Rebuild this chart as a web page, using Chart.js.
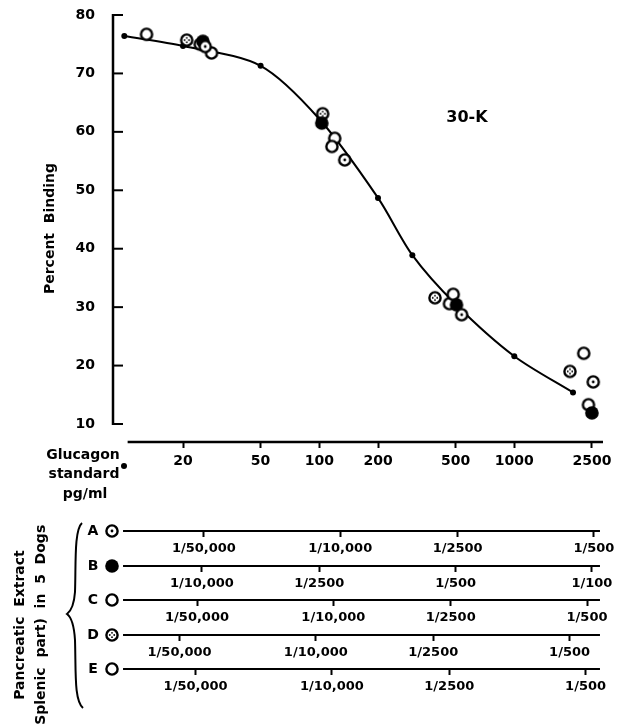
<!DOCTYPE html>
<html>
<head>
<meta charset="utf-8">
<script src="https://cdn.jsdelivr.net/npm/chart.js@4.4.0/dist/chart.umd.min.js"></script>
<style>
    html, body { margin: 0; padding: 0; background: #fff; }
</style>
</head>
<body>
<canvas id="bindingChart" width="624" height="725"></canvas>
<script>
// glucagon standard curve (pg/ml vs percent binding)
const standardDose = [10, 20, 50, 100, 200, 300, 500, 1000, 2000];
const standardBinding = [76.4, 74.7, 71.3, 62.2, 48.7, 38.9, 30.5, 21.6, 15.4];

const doseTicks = [20, 50, 100, 200, 500, 1000, 2500];
const bindingTicks = [10, 20, 30, 40, 50, 60, 70, 80];

// pancreatic extracts, dogs A-E (x read as pg/ml on the standard axis)
const doseA = [26, 135, 537, 2540];
const bindA = [74.6, 55.2, 28.7, 17.2];
const doseB = [25.3, 103, 505, 2500];
const bindB = [75.5, 61.5, 30.4, 11.9];
const doseC = [24.5, 116, 486, 2270];
const bindC = [75.0, 57.5, 32.2, 22.1];
const doseD = [20.9, 104, 392, 1930];
const bindD = [75.7, 63.1, 31.6, 19.0];
const doseE = [13, 28, 120, 465, 2400];
const bindE = [76.7, 73.5, 58.9, 30.6, 13.3];

const dogLabels = ["A", "B", "C", "D", "E"];
const dilutionA = [50000, 10000, 2500, 500];
const dilutionB = [10000, 2500, 500, 100];
const dilutionC = [50000, 10000, 2500, 500];
const dilutionD = [50000, 10000, 2500, 500];
const dilutionE = [50000, 10000, 2500, 500];
// pg/ml equivalent of undiluted extract (lines the dilution bars up with the dose axis)
const dogFactor = [1.28e6, 2.5e5, 1.18e6, 9.6e5, 1.16e6];

const X_MIN = 8.75, X_MAX = 2850;
const FONT = "DejaVu Sans";

Chart.defaults.font.family = FONT;
Chart.defaults.color = "#000";

function makeMarker(kind) {
    const c = document.createElement("canvas");
    c.width = 16; c.height = 16;
    const g = c.getContext("2d");
    g.strokeStyle = "#000";
    g.fillStyle = "#000";
    g.lineWidth = 2.4;
    g.beginPath();
    if (kind === "filled") {
        g.arc(8, 8, 6.8, 0, Math.PI * 2);
        g.fill();
        return c;
    }
    g.arc(8, 8, 5.6, 0, Math.PI * 2);
    g.fillStyle = "#fff";
    g.fill();
    g.stroke();
    g.fillStyle = "#000";
    if (kind === "dot") {
        g.beginPath();
        g.arc(8, 8, 1.4, 0, Math.PI * 2);
        g.fill();
    }
    if (kind === "cross") {
        [[-2.2, 0], [2.2, 0], [0, -2.2], [0, 2.2]].forEach(function (d) {
            g.beginPath();
            g.arc(8 + d[0], 8 + d[1], 0.9, 0, Math.PI * 2);
            g.fill();
        });
    }
    return c;
}

const markers = [makeMarker("dot"), makeMarker("filled"), makeMarker("open"), makeMarker("cross"), makeMarker("open")];
const dogDoses = [doseA, doseB, doseC, doseD, doseE];
const dogBinding = [bindA, bindB, bindC, bindD, bindE];
const dogDilutions = [dilutionA, dilutionB, dilutionC, dilutionD, dilutionE];
const dilutionIds = ["dilA", "dilB", "dilC", "dilD", "dilE"];
const dilutionHeights = [35, 34, 35, 34, 36];

function fmtDilution(d) {
    return "1/" + (d >= 10000 ? d.toLocaleString("en-US") : String(d));
}

const tickFont = { family: FONT, size: 14, weight: "bold" };

const scales = {
    x: {
        type: "logarithmic",
        position: "bottom",
        weight: 0,
        min: X_MIN,
        max: X_MAX,
        border: { display: false },
        grid: { drawOnChartArea: false, tickLength: 6, tickColor: "#000", tickWidth: 2 },
        ticks: { autoSkip: false, maxRotation: 0, padding: 5, font: tickFont, callback: function (v) { return String(v); } },
        afterBuildTicks: function (s) { s.ticks = doseTicks.map(function (v) { return { value: v }; }); },
        afterFit: function (s) { s.height = 89; }
    },
    y: {
        type: "linear",
        min: 6.92,
        max: 80,
        border: { display: false },
        grid: { display: false },
        ticks: { padding: 10, font: tickFont },
        afterBuildTicks: function (s) { s.ticks = bindingTicks.map(function (v) { return { value: v }; }); },
        afterFit: function (s) { s.width = 73; s.paddingTop = 0; s.paddingBottom = 0; },
        title: { display: true, text: "Percent  Binding", font: { family: FONT, size: 14, weight: "bold" }, padding: { top: 2, bottom: 0 } }
    }
};

dilutionIds.forEach(function (id, i) {
    const dens = dogDilutions[i];
    scales[id] = {
        type: "logarithmic",
        position: "bottom",
        weight: i + 1,
        min: X_MIN / dogFactor[i],
        max: X_MAX / dogFactor[i],
        border: { display: false },
        grid: { drawOnChartArea: false, tickLength: 6, tickColor: "#000", tickWidth: 2 },
        ticks: { autoSkip: false, maxRotation: 0, padding: 4, font: { family: FONT, size: 13, weight: "bold" },
            callback: function (v, idx) { return fmtDilution(dens[idx]); } },
        afterBuildTicks: function (s) { s.ticks = dens.map(function (d) { return { value: 1 / d }; }); },
        afterFit: function (s) { s.height = dilutionHeights[i]; }
    };
});

const datasets = [{
    label: "Glucagon standard",
    data: standardDose.map(function (x, i) { return { x: x, y: standardBinding[i] }; }),
    showLine: true,
    borderColor: "#000",
    borderWidth: 2,
    pointRadius: function (c) { return standardDose[c.dataIndex] === 500 ? 0 : 3; },
    pointBackgroundColor: "#000",
    pointBorderWidth: 0,
    tension: 0.3,
    order: 10
}];
dogLabels.forEach(function (name, i) {
    datasets.push({
        label: "Dog " + name,
        data: dogDoses[i].map(function (x, j) { return { x: x, y: dogBinding[i][j] }; }),
        pointStyle: markers[i],
        pointRadius: 8,
        showLine: false,
        order: 1
    });
});

function line(ctx, x1, y1, x2, y2) {
    ctx.beginPath();
    ctx.moveTo(x1, y1);
    ctx.lineTo(x2, y2);
    ctx.stroke();
}

const decor = {
    id: "decor",
    afterDraw: function (chart) {
        const ctx = chart.ctx, area = chart.chartArea, xs = chart.scales.x, ys = chart.scales.y;
        ctx.save();
        ctx.strokeStyle = "#000";
        ctx.fillStyle = "#000";

        // y axis with inward ticks
        ctx.lineWidth = 2.5;
        line(ctx, area.left, ys.getPixelForValue(80) - 1, area.left, ys.getPixelForValue(10) + 1);
        ctx.lineWidth = 2;
        bindingTicks.forEach(function (v) {
            const py = ys.getPixelForValue(v);
            line(ctx, area.left, py, area.left + 10, py);
        });
        // dose axis
        ctx.lineWidth = 2.5;
        line(ctx, xs.getPixelForValue(10.4), area.bottom, area.right, area.bottom);

        // dilution bars
        ctx.font = "bold 14px " + FONT;
        ctx.textAlign = "center";
        ctx.textBaseline = "middle";
        dilutionIds.forEach(function (id, i) {
            const s = chart.scales[id];
            ctx.lineWidth = 2;
            line(ctx, xs.getPixelForValue(9.85), s.top, xs.getPixelForValue(2750), s.top);
            ctx.fillText(dogLabels[i], 93, s.top);
            ctx.drawImage(markers[i], 104, s.top - 8);
        });

        ctx.font = "bold 16px " + FONT;
        ctx.fillText("30-K", 467, 118);

        ctx.font = "bold 14px " + FONT;
        ctx.fillText("Glucagon", 83, 455);
        ctx.fillText("standard", 84, 474);
        ctx.fillText("pg/ml", 85, 494);
        ctx.beginPath();
        ctx.arc(124, 466, 3, 0, Math.PI * 2);
        ctx.fill();

        ctx.save();
        ctx.translate(20, 625);
        ctx.rotate(-Math.PI / 2);
        ctx.font = "bold 14px " + FONT;
        ctx.fillText("Pancreatic  Extract", 0, 0);
        ctx.restore();
        ctx.save();
        ctx.translate(41, 628);
        ctx.rotate(-Math.PI / 2);
        ctx.font = "bold 14px " + FONT;
        ctx.fillText("(Splenic  part)  in  5  Dogs", 0, 0);
        ctx.restore();

        // brace
        ctx.lineWidth = 2;
        ctx.beginPath();
        ctx.moveTo(82, 523);
        ctx.bezierCurveTo(74, 530, 76, 565, 75, 592);
        ctx.bezierCurveTo(74, 606, 71, 611, 67, 614);
        ctx.bezierCurveTo(71, 617, 74, 624, 75, 640);
        ctx.bezierCurveTo(76, 672, 74, 700, 83, 708);
        ctx.stroke();
        ctx.restore();
    }
};

new Chart(document.getElementById("bindingChart").getContext("2d"), {
    type: "scatter",
    data: { datasets: datasets },
    options: {
        responsive: false,
        animation: false,
        layout: { padding: { left: 40, right: 21, top: 15, bottom: 20 } },
        plugins: { legend: { display: false }, tooltip: { enabled: false } },
        scales: scales
    },
    plugins: [decor]
});
</script>
</body>
</html>
